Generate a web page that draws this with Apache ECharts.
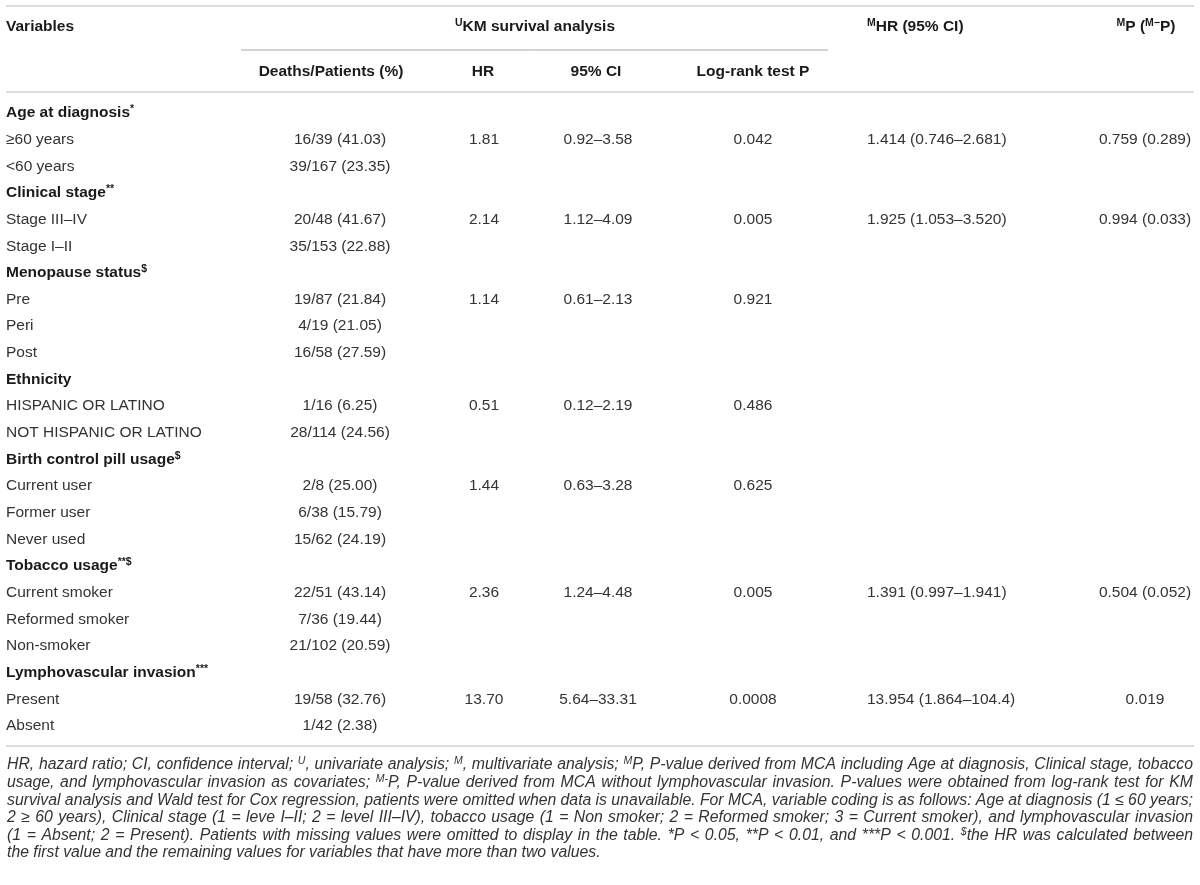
<!DOCTYPE html>
<html>
<head>
<meta charset="utf-8">
<title>KM survival analysis table</title>
<script src="https://cdn.jsdelivr.net/npm/echarts@6/dist/echarts.min.js"></script>
<style>
html, body { margin: 0; padding: 0; background: #fff; }
#chart { width: 1200px; height: 885px; }
</style>
</head>
<body>
<div id="chart"></div>
<script>
// 表格数据
const GROUP_NAMES = ['Age at diagnosis', 'Clinical stage', 'Menopause status', 'Ethnicity',
    'Birth control pill usage', 'Tobacco usage', 'Lymphovascular invasion'];
const GROUP_MARKS = ['*', '**', '$', '', '$', '**$', '***'];
const GROUP_LEVELS = [
    ['≥60 years', '<60 years'],
    ['Stage III–IV', 'Stage I–II'],
    ['Pre', 'Peri', 'Post'],
    ['HISPANIC OR LATINO', 'NOT HISPANIC OR LATINO'],
    ['Current user', 'Former user', 'Never used'],
    ['Current smoker', 'Reformed smoker', 'Non-smoker'],
    ['Present', 'Absent']
];
const DEATHS_PATIENTS = [
    ['16/39 (41.03)', '39/167 (23.35)'],
    ['20/48 (41.67)', '35/153 (22.88)'],
    ['19/87 (21.84)', '4/19 (21.05)', '16/58 (27.59)'],
    ['1/16 (6.25)', '28/114 (24.56)'],
    ['2/8 (25.00)', '6/38 (15.79)', '15/62 (24.19)'],
    ['22/51 (43.14)', '7/36 (19.44)', '21/102 (20.59)'],
    ['19/58 (32.76)', '1/42 (2.38)']
];
const KM_HR = ['1.81', '2.14', '1.14', '0.51', '1.44', '2.36', '13.70'];
const KM_CI = ['0.92–3.58', '1.12–4.09', '0.61–2.13', '0.12–2.19', '0.63–3.28', '1.24–4.48', '5.64–33.31'];
const LOGRANK_P = ['0.042', '0.005', '0.921', '0.486', '0.625', '0.005', '0.0008'];
const MCA_HR = ['1.414 (0.746–2.681)', '1.925 (1.053–3.520)', '', '', '', '1.391 (0.997–1.941)', '13.954 (1.864–104.4)'];
const MCA_P = ['0.759 (0.289)', '0.994 (0.033)', '', '', '', '0.504 (0.052)', '0.019'];

const FOOTNOTE_LINES = [
    'HR, hazard ratio; CI, confidence interval; {is|U}, univariate analysis; {is|M}, multivariate analysis; {is|M}P, P-value derived from MCA including Age at diagnosis, Clinical stage, tobacco',
    'usage, and lymphovascular invasion as covariates; {is|M-}P, P-value derived from MCA without lymphovascular invasion. P-values were obtained from log-rank test for KM',
    'survival analysis and Wald test for Cox regression, patients were omitted when data is unavailable. For MCA, variable coding is as follows: Age at diagnosis (1 ≤ 60 years;',
    '2 ≥ 60 years), Clinical stage (1 = leve I–II; 2 = level III–IV), tobacco usage (1 = Non smoker; 2 = Reformed smoker; 3 = Current smoker), and lymphovascular invasion',
    '(1 = Absent; 2 = Present). Patients with missing values were omitted to display in the table. *P < 0.05, **P < 0.01, and ***P < 0.001. {is|$}the HR was calculated between',
    'the first value and the remaining values for variables that have more than two values.'
];

// 布局常量
const FONT = '"Liberation Sans", Arial, sans-serif';
const FS = 15.5;       // 正文字号
const FS_SUP = 10.5;   // 上标字号
const FS_NOTE = 15.8;  // 脚注字号
const COL_X = { label: 6, deaths: 340, hr: 484, ci: 598, p: 753, mhr: 867, mp: 1145 };
const ROW_TOP = 113;
const ROW_PITCH = 26.65;
const NOTE_LEFT = 7;
const NOTE_RIGHT = 1193;

const RICH = {
    b: { fontFamily: FONT, fontSize: FS, fontWeight: 'bold', fill: '#1a1a1a', lineHeight: 18 },
    bs: { fontFamily: FONT, fontSize: FS_SUP, fontWeight: 'bold', fill: '#1a1a1a', lineHeight: 18, verticalAlign: 'top', padding: [0, 0, 6, 0] },
    r: { fontFamily: FONT, fontSize: FS, fill: '#333', lineHeight: 18 },
    i: { fontFamily: FONT, fontSize: FS_NOTE, fontStyle: 'italic', fill: '#333', lineHeight: 18 },
    is: { fontFamily: FONT, fontSize: FS_SUP, fontStyle: 'italic', fill: '#333', lineHeight: 18, verticalAlign: 'top', padding: [0, 0, 6, 0] }
};

// 构建行与单元格
const rowKeys = [];
const cells = [];
function addCell(x, row, text, align) {
    if (text) cells.push({ x: x, row: row, text: text, align: align });
}
GROUP_NAMES.forEach((name, g) => {
    const gRow = rowKeys.length;
    rowKeys.push('g' + g);
    const mark = GROUP_MARKS[g] ? '{bs|' + GROUP_MARKS[g] + '}' : '';
    addCell(COL_X.label, gRow, '{b|' + name + '}' + mark, 'left');
    GROUP_LEVELS[g].forEach((level, i) => {
        const row = rowKeys.length;
        rowKeys.push('g' + g + 'l' + i);
        addCell(COL_X.label, row, '{r|' + level + '}', 'left');
        addCell(COL_X.deaths, row, '{r|' + DEATHS_PATIENTS[g][i] + '}', 'center');
        if (i === 0) {
            addCell(COL_X.hr, row, '{r|' + KM_HR[g] + '}', 'center');
            addCell(COL_X.ci, row, '{r|' + KM_CI[g] + '}', 'center');
            addCell(COL_X.p, row, '{r|' + LOGRANK_P[g] + '}', 'center');
            if (MCA_HR[g]) addCell(COL_X.mhr, row, '{r|' + MCA_HR[g] + '}', 'left');
            if (MCA_P[g]) addCell(COL_X.mp, row, '{r|' + MCA_P[g] + '}', 'center');
        }
    });
});

const gridTop = ROW_TOP - ROW_PITCH / 2;
const gridHeight = ROW_PITCH * rowKeys.length;

// 表头、分隔线与脚注
function headText(x, y, text, align) {
    return { type: 'text', x: x, y: y, silent: true,
        style: { text: text, rich: RICH, align: align, verticalAlign: 'middle' } };
}
function rule(x1, x2, y, color, width) {
    return { type: 'line', silent: true, shape: { x1: x1, y1: y, x2: x2, y2: y },
        style: { stroke: color, lineWidth: width } };
}
const graphics = [
    rule(6, 1194, 6, '#dcdcdc', 2),
    rule(241, 828, 50, '#a8a8a8', 1),
    rule(6, 1194, 92, '#dcdcdc', 2),
    rule(6, 1194, 746, '#dcdcdc', 2),
    headText(6, 27, '{b|Variables}', 'left'),
    headText(535, 27, '{bs|U}{b|KM survival analysis}', 'center'),
    headText(867, 27, '{bs|M}{b|HR (95% CI)}', 'left'),
    headText(1146, 27, '{bs|M}{b|P (}{bs|M−}{b|P)}', 'center'),
    headText(331, 72, '{b|Deaths/Patients (%)}', 'center'),
    headText(483, 72, '{b|HR}', 'center'),
    headText(596, 72, '{b|95% CI}', 'center'),
    headText(753, 72, '{b|Log-rank test P}', 'center')
];

// 脚注两端对齐: 逐词测量宽度后分配间距
const measureCtx = document.createElement('canvas').getContext('2d');
function wordParts(word) {
    return word.split(/(\{is\|[^}]*\})/).filter(s => s.length).map(s => {
        const m = s.match(/^\{is\|([^}]*)\}$/);
        return m ? { sup: true, text: m[1] } : { sup: false, text: s };
    });
}
function measureWord(word) {
    return wordParts(word).reduce((w, p) => {
        measureCtx.font = 'italic ' + (p.sup ? FS_SUP : FS_NOTE) + 'px ' + FONT;
        return w + measureCtx.measureText(p.text).width;
    }, 0);
}
measureCtx.font = 'italic ' + FS_NOTE + 'px ' + FONT;
const SPACE_W = measureCtx.measureText(' ').width;
FOOTNOTE_LINES.forEach((line, k) => {
    const y = 765 + k * 17.6;
    const words = line.split(' ');
    const widths = words.map(measureWord);
    const total = widths.reduce((a, b) => a + b, 0);
    const justify = k < FOOTNOTE_LINES.length - 1;
    const gap = justify ? (NOTE_RIGHT - NOTE_LEFT - total) / (words.length - 1) : SPACE_W;
    let x = NOTE_LEFT;
    words.forEach((word, j) => {
        const text = wordParts(word).map(p => (p.sup ? '{is|' : '{i|') + p.text + '}').join('');
        graphics.push(headText(x, y, text, 'left'));
        x += widths[j] + gap;
    });
});

const chart = echarts.init(document.getElementById('chart'), null, { renderer: 'canvas' });
chart.setOption({
    animation: false,
    backgroundColor: '#fff',
    grid: { left: 0, right: 0, top: gridTop, height: gridHeight },
    xAxis: { type: 'value', min: 0, max: 1200, show: false },
    yAxis: { type: 'category', data: rowKeys, inverse: true, show: false },
    graphic: graphics,
    series: [{
        type: 'custom',
        coordinateSystem: 'cartesian2d',
        silent: true,
        data: cells.map(c => [c.x, c.row]),
        renderItem: function (params, api) {
            const c = cells[params.dataIndex];
            const pt = api.coord([api.value(0), api.value(1)]);
            return {
                type: 'text',
                x: pt[0],
                y: pt[1],
                style: { text: c.text, rich: RICH, align: c.align, verticalAlign: 'middle' }
            };
        }
    }]
});
</script>
</body>
</html>
